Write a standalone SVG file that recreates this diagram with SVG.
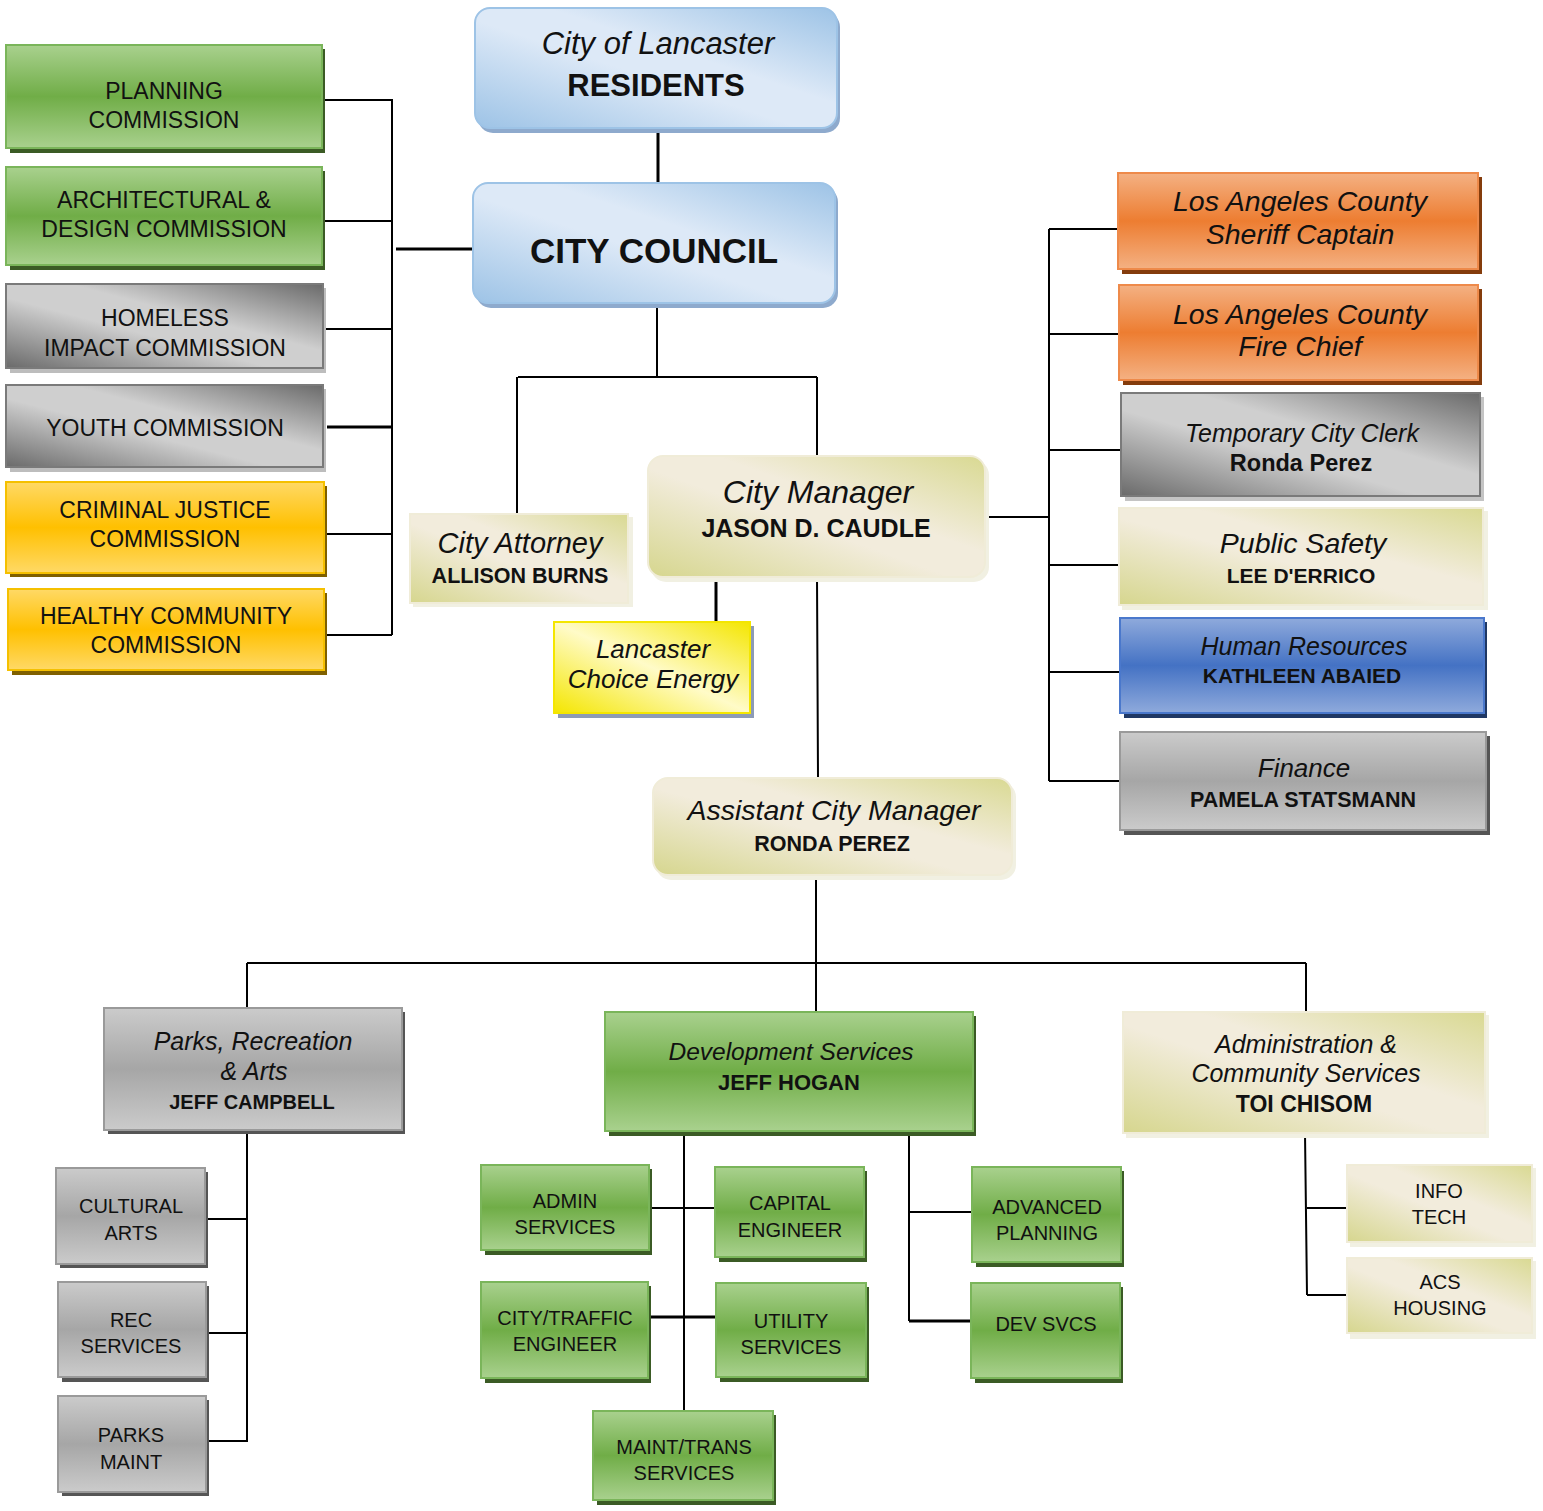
<svg xmlns="http://www.w3.org/2000/svg" width="1543" height="1511" viewBox="0 0 1543 1511">
<defs>
<linearGradient id="gGreen" x1="0" y1="0" x2="0" y2="1"><stop offset="0" stop-color="#a9d18e"/><stop offset="0.5" stop-color="#70ad47"/><stop offset="1" stop-color="#a9d18e"/></linearGradient>
<linearGradient id="gGray" x1="0" y1="0" x2="0" y2="1"><stop offset="0" stop-color="#cbcbcb"/><stop offset="0.5" stop-color="#a6a6a6"/><stop offset="1" stop-color="#cbcbcb"/></linearGradient>
<linearGradient id="gGrayD" x1="0" y1="1" x2="1" y2="0"><stop offset="0" stop-color="#6a6a6a"/><stop offset="0.42" stop-color="#cfcfcf"/><stop offset="0.6" stop-color="#cfcfcf"/><stop offset="1" stop-color="#6a6a6a"/></linearGradient>
<linearGradient id="gOrange" x1="0" y1="0" x2="0" y2="1"><stop offset="0" stop-color="#f4b183"/><stop offset="0.5" stop-color="#ed7d31"/><stop offset="1" stop-color="#f4b183"/></linearGradient>
<linearGradient id="gGold" x1="0" y1="0" x2="0" y2="1"><stop offset="0" stop-color="#ffd966"/><stop offset="0.5" stop-color="#ffc000"/><stop offset="1" stop-color="#ffd966"/></linearGradient>
<linearGradient id="gBlueHR" x1="0" y1="0" x2="0" y2="1"><stop offset="0" stop-color="#8faadc"/><stop offset="0.5" stop-color="#4472c4"/><stop offset="1" stop-color="#8faadc"/></linearGradient>
<linearGradient id="gSky" x1="0" y1="1" x2="1" y2="0"><stop offset="0" stop-color="#9dc3e6"/><stop offset="0.45" stop-color="#dde9f7"/><stop offset="0.6" stop-color="#dde9f7"/><stop offset="1" stop-color="#9dc3e6"/></linearGradient>
<linearGradient id="gCream" x1="0" y1="1" x2="1" y2="0"><stop offset="0" stop-color="#d6d68e"/><stop offset="0.45" stop-color="#f2ecdc"/><stop offset="0.6" stop-color="#f2ecdc"/><stop offset="1" stop-color="#d9d992"/></linearGradient>
<linearGradient id="gYellow" x1="0" y1="1" x2="1" y2="0"><stop offset="0" stop-color="#f4e600"/><stop offset="0.5" stop-color="#fffbc8"/><stop offset="1" stop-color="#f4e600"/></linearGradient>
</defs>
<style>
text{font-family:"Liberation Sans",Arial,sans-serif;fill:#111;text-anchor:middle}
.r{font-size:23px}
.s{font-size:20px}
.i{font-style:italic}
.b{font-weight:bold}
.green{fill:url(#gGreen);stroke:#7ab55a;stroke-width:2}
.gshadow{fill:#3b5b25}
.gray{fill:url(#gGray);stroke:#9a9a9a;stroke-width:2}
.grayd{fill:url(#gGrayD);stroke:#7a7a7a;stroke-width:2}
.gyshadow{fill:#555}
.orange{fill:url(#gOrange);stroke:#ee8a4a;stroke-width:2}
.oshadow{fill:#843c0c}
.gold{fill:url(#gGold);stroke:#f5c000;stroke-width:2}
.goshadow{fill:#7f6000}
.hr{fill:url(#gBlueHR);stroke:#4a78cc;stroke-width:2}
.hrshadow{fill:#203864}
.sky{fill:url(#gSky);stroke:#9dc3e6;stroke-width:2}
.skyshadow{fill:#8eaacd}
.cream{fill:url(#gCream);stroke:#f0ecd8;stroke-width:2}
.crshadow{fill:#f1f0e2}
.yellow{fill:url(#gYellow);stroke:#f4e600;stroke-width:2}
.yshadow{fill:#8d9bb5}
.c{stroke:#000;stroke-width:2;fill:none}
.ct{stroke:#000;stroke-width:3;fill:none}
</style>

<g id="connectors">
<path class="c" d="M322 100H392V635M323 221H392M323 329H392M324 534H392M324 635H392"/>
<path class="ct" d="M327 427H392M396 249H473M658 130V182"/>
<path class="c" d="M657 308V377M518 377H817M517 377V514M817 377V458"/>
<path class="ct" d="M716 577V622"/>
<path class="c" d="M817 577L818 778M816 875V1012M247 963H1306M247 963V1008M1306 963V1012"/>
<path class="c" d="M985 517H1049M1049 229V781M1049 229H1117M1049 334H1119M1049 450H1121M1049 565H1120M1049 672H1121M1049 781H1121"/>
<path class="c" d="M247 1130V1442M206 1219H247M207 1333H247M207 1441H247"/>
<path class="c" d="M684 1133V1411M650 1208H715M909 1133V1321M909 1212H972"/>
<path class="ct" d="M651 1317H717M909 1321H972"/>
<path class="c" d="M1305 1133L1307 1295M1307 1208H1347M1307 1295H1347"/>
</g>

<g id="planning-commission"><rect class="gshadow" x="10" y="49" width="315" height="104"/><rect class="green" x="6" y="45" width="316" height="103"/><text class="r" x="164"><tspan x="164" y="99">PLANNING</tspan><tspan x="164" y="128">COMMISSION</tspan></text></g>
<g id="architectural-commission"><rect class="gshadow" x="10" y="171" width="315" height="99"/><rect class="green" x="6" y="167" width="316" height="98"/><text class="r"><tspan x="164" y="208">ARCHITECTURAL &amp;</tspan><tspan x="164" y="237">DESIGN COMMISSION</tspan></text></g>
<g id="homeless-commission"><rect fill="#bdbdbd" x="10" y="288" width="316" height="85"/><rect class="grayd" x="6" y="284" width="317" height="84"/><text class="r"><tspan x="165" y="326">HOMELESS</tspan><tspan x="165" y="356">IMPACT COMMISSION</tspan></text></g>
<g id="youth-commission"><rect fill="#bdbdbd" x="10" y="389" width="316" height="83"/><rect class="grayd" x="6" y="385" width="317" height="82"/><text class="r" x="165" y="436">YOUTH COMMISSION</text></g>
<g id="criminal-justice-commission"><rect class="goshadow" x="10" y="486" width="317" height="91"/><rect class="gold" x="6" y="482" width="318" height="91"/><text class="r"><tspan x="165" y="518">CRIMINAL JUSTICE</tspan><tspan x="165" y="547">COMMISSION</tspan></text></g>
<g id="healthy-community-commission"><rect class="goshadow" x="12" y="593" width="315" height="82"/><rect class="gold" x="8" y="589" width="316" height="81"/><text class="r"><tspan x="166" y="624">HEALTHY COMMUNITY</tspan><tspan x="166" y="653">COMMISSION</tspan></text></g>

<g id="residents"><rect class="skyshadow" x="478" y="12" width="362" height="121" rx="15"/><rect class="sky" x="475" y="8" width="362" height="120" rx="15"/><text class="i" x="658" y="54" font-size="31">City of Lancaster</text><text class="b" x="656" y="96" font-size="31">RESIDENTS</text></g>
<g id="city-council"><rect class="skyshadow" x="476" y="187" width="362" height="121" rx="15"/><rect class="sky" x="473" y="183" width="362" height="120" rx="15"/><text class="b" x="654" y="263" font-size="35">CITY COUNCIL</text></g>

<g id="city-attorney"><rect class="crshadow" x="413" y="517" width="220" height="90"/><rect class="cream" x="410" y="514" width="218" height="89"/><text class="i" x="520" y="553" font-size="29">City Attorney</text><text class="b" x="520" y="583" font-size="21.5">ALLISON BURNS</text></g>
<g id="city-manager"><rect class="crshadow" x="651" y="460" width="338" height="122" rx="15"/><rect class="cream" x="648" y="456" width="337" height="121" rx="15"/><text class="i" x="818" y="503" font-size="32">City Manager</text><text class="b" x="816" y="537" font-size="25">JASON D. CAUDLE</text></g>
<g id="lancaster-choice-energy"><rect class="yshadow" x="558" y="626" width="196" height="92"/><rect class="yellow" x="554" y="622" width="196" height="91"/><text class="i" font-size="26"><tspan x="653" y="658">Lancaster</tspan><tspan x="653" y="688">Choice Energy</tspan></text></g>
<g id="assistant-city-manager"><rect class="crshadow" x="656" y="782" width="360" height="98" rx="15"/><rect class="cream" x="653" y="778" width="359" height="97" rx="15"/><text class="i" x="834" y="820" font-size="28.5">Assistant City Manager</text><text class="b" x="832" y="851" font-size="21.5">RONDA PEREZ</text></g>

<g id="sheriff"><rect class="oshadow" x="1122" y="177" width="360" height="97"/><rect class="orange" x="1118" y="173" width="360" height="96"/><text class="i" font-size="28.5"><tspan x="1300" y="211">Los Angeles County</tspan><tspan x="1300" y="244">Sheriff Captain</tspan></text></g>
<g id="fire-chief"><rect class="oshadow" x="1123" y="289" width="359" height="96"/><rect class="orange" x="1119" y="285" width="359" height="95"/><text class="i" font-size="28.5"><tspan x="1300" y="324">Los Angeles County</tspan><tspan x="1300" y="356">Fire Chief</tspan></text></g>
<g id="city-clerk"><rect fill="#c4c4c4" x="1125" y="397" width="359" height="104"/><rect class="grayd" x="1121" y="393" width="359" height="103"/><text class="i" x="1302" y="442" font-size="25">Temporary City Clerk</text><text class="b" x="1301" y="471" font-size="23.5">Ronda Perez</text></g>
<g id="public-safety"><rect class="crshadow" x="1122" y="511" width="366" height="99"/><rect class="cream" x="1119" y="508" width="364" height="97"/><text class="i" x="1303" y="553" font-size="28.5">Public Safety</text><text class="b" x="1301" y="583" font-size="21">LEE D'ERRICO</text></g>
<g id="human-resources"><rect class="hrshadow" x="1124" y="622" width="363" height="96"/><rect class="hr" x="1120" y="618" width="364" height="95"/><text class="i" x="1304" y="655" font-size="25">Human Resources</text><text class="b" x="1302" y="683" font-size="21">KATHLEEN ABAIED</text></g>
<g id="finance"><rect class="gyshadow" x="1124" y="736" width="366" height="99"/><rect class="gray" x="1120" y="732" width="366" height="98"/><text class="i" x="1304" y="777" font-size="26">Finance</text><text class="b" x="1303" y="807" font-size="21.5">PAMELA STATSMANN</text></g>

<g id="parks-recreation"><rect class="gyshadow" x="108" y="1012" width="297" height="122"/><rect class="gray" x="104" y="1008" width="298" height="122"/><text class="i" font-size="25"><tspan x="253" y="1050">Parks, Recreation</tspan><tspan x="254" y="1080">&amp; Arts</tspan></text><text class="b" x="252" y="1109" font-size="20">JEFF CAMPBELL</text></g>
<g id="cultural-arts"><rect class="gyshadow" x="60" y="1172" width="148" height="96"/><rect class="gray" x="56" y="1168" width="149" height="96"/><text class="s"><tspan x="131" y="1213">CULTURAL</tspan><tspan x="131" y="1240">ARTS</tspan></text></g>
<g id="rec-services"><rect class="gyshadow" x="62" y="1286" width="147" height="96"/><rect class="gray" x="58" y="1282" width="148" height="95"/><text class="s"><tspan x="131" y="1327">REC</tspan><tspan x="131" y="1353">SERVICES</tspan></text></g>
<g id="parks-maint"><rect class="gyshadow" x="62" y="1400" width="147" height="96"/><rect class="gray" x="58" y="1396" width="148" height="96"/><text class="s"><tspan x="131" y="1442">PARKS</tspan><tspan x="131" y="1469">MAINT</tspan></text></g>

<g id="development-services"><rect class="gshadow" x="609" y="1016" width="367" height="120"/><rect class="green" x="605" y="1012" width="368" height="119"/><text class="i" x="791" y="1060" font-size="24.5">Development Services</text><text class="b" x="789" y="1090" font-size="22">JEFF HOGAN</text></g>
<g id="admin-services"><rect class="gshadow" x="485" y="1169" width="167" height="86"/><rect class="green" x="481" y="1165" width="168" height="85"/><text class="s"><tspan x="565" y="1208">ADMIN</tspan><tspan x="565" y="1234">SERVICES</tspan></text></g>
<g id="capital-engineer"><rect class="gshadow" x="719" y="1171" width="148" height="91"/><rect class="green" x="715" y="1167" width="149" height="90"/><text class="s"><tspan x="790" y="1210">CAPITAL</tspan><tspan x="790" y="1237">ENGINEER</tspan></text></g>
<g id="advanced-planning"><rect class="gshadow" x="976" y="1171" width="148" height="96"/><rect class="green" x="972" y="1167" width="149" height="95"/><text class="s" font-size="21"><tspan x="1047" y="1214">ADVANCED</tspan><tspan x="1047" y="1240">PLANNING</tspan></text></g>
<g id="city-traffic-engineer"><rect class="gshadow" x="485" y="1286" width="166" height="97"/><rect class="green" x="481" y="1282" width="167" height="96"/><text class="s"><tspan x="565" y="1325">CITY/TRAFFIC</tspan><tspan x="565" y="1351">ENGINEER</tspan></text></g>
<g id="utility-services"><rect class="gshadow" x="720" y="1287" width="149" height="95"/><rect class="green" x="716" y="1283" width="150" height="94"/><text class="s"><tspan x="791" y="1328">UTILITY</tspan><tspan x="791" y="1354">SERVICES</tspan></text></g>
<g id="dev-svcs"><rect class="gshadow" x="975" y="1287" width="148" height="96"/><rect class="green" x="971" y="1283" width="149" height="95"/><text class="s" x="1046" y="1331">DEV SVCS</text></g>
<g id="maint-trans-services"><rect class="gshadow" x="597" y="1415" width="179" height="90"/><rect class="green" x="593" y="1411" width="180" height="89"/><text class="s"><tspan x="684" y="1454">MAINT/TRANS</tspan><tspan x="684" y="1480">SERVICES</tspan></text></g>

<g id="admin-community-services"><rect class="crshadow" x="1126" y="1015" width="363" height="123"/><rect class="cream" x="1123" y="1012" width="362" height="121"/><text class="i" font-size="25"><tspan x="1306" y="1053">Administration &amp;</tspan><tspan x="1306" y="1082">Community Services</tspan></text><text class="b" x="1304" y="1112" font-size="23">TOI CHISOM</text></g>
<g id="info-tech"><rect class="crshadow" x="1350" y="1168" width="186" height="79"/><rect class="cream" x="1347" y="1165" width="185" height="77"/><text class="s"><tspan x="1439" y="1198">INFO</tspan><tspan x="1439" y="1224">TECH</tspan></text></g>
<g id="acs-housing"><rect class="crshadow" x="1350" y="1261" width="186" height="78"/><rect class="cream" x="1347" y="1258" width="185" height="75"/><text class="s"><tspan x="1440" y="1289">ACS</tspan><tspan x="1440" y="1315">HOUSING</tspan></text></g>
</svg>
